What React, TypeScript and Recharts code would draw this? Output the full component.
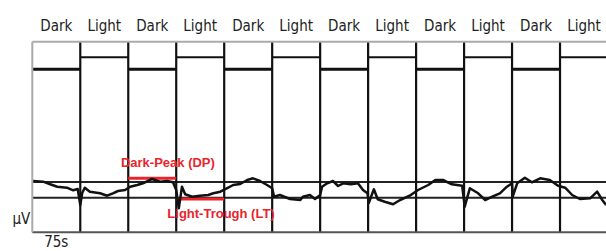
import React from "react";
import {
  ComposedChart,
  Line,
  XAxis,
  YAxis,
  ReferenceLine,
  ReferenceDot,
} from "recharts";

// Stimulus protocol: 12 alternating phases of 75 s
const stimulusLabels = [
  "Dark", "Light", "Dark", "Light", "Dark", "Light",
  "Dark", "Light", "Dark", "Light", "Dark", "Light",
];
const phaseSeconds = 75;
const stimulusLevelDark = 163;
const stimulusLevelLight = 175;

// EOG trace (time in s, amplitude in µV, arbitrary offset)
const traceTime = [
  1, 17, 28, 39, 54, 64, 71, 75, 78, 82, 90, 106, 117, 126, 134, 145, 153, 164,
  173, 187, 200, 211, 220, 225, 229, 234, 239, 250, 262, 275, 283, 294, 304, 314,
  325, 336, 345, 356, 367, 375, 378, 387, 403, 419, 423, 434, 442, 450, 453, 461,
  470, 478, 486, 498, 509, 517, 524, 526, 534, 540, 551, 564, 575, 590, 603, 619, 630,
  642, 656, 672, 676, 684, 697, 708, 719, 731, 742, 750, 751, 758, 770, 781, 794,
  809, 822, 833, 844, 856, 872, 883, 891, 897,
];
const traceMicrovolts = [
  51.3, 50.6, 48, 45.6, 44.6, 42, 43.3, 27.3, 39.3, 44.6, 40.6, 39, 36.6, 39, 41.3,
  42.3, 45.6, 47.3, 49, 53.3, 50.6, 51.3, 50, 42.3, 24, 45.6, 38, 35.6, 36.6, 37.3,
  39, 40.6, 44, 47.3, 48.3, 52.3, 54, 51.3, 47.3, 44, 35.6, 37.3, 33.3, 32.3, 35.6,
  37.3, 33.3, 37.3, 45.6, 49, 51.3, 46.3, 49, 48, 49, 42.3, 39, 29.3, 43, 33, 30.6,
  28, 32.3, 36.6, 42.3, 47.3, 52.3, 52.3, 48, 46.6, 25.6, 44, 39, 32.3, 35.6, 39,
  45.6, 49, 35.6, 49, 54.6, 50, 54, 52.3, 46.6, 44.6, 37.3, 33.3, 34, 40.6, 32.3,
  27.3,
];

const baselineLevels = [50.3, 34.6];
const darkPeakLevel = 54;
const lightTroughLevel = 33.3;
const darkPeakPhase = 2; // index of phase
const lightTroughPhase = 3;

const unitLabel = "μV";
const timeLabel = "75s";

const traceData = traceTime.map((t, i) => ({ t, v: traceMicrovolts[i] }));
const phaseCenters = stimulusLabels.map((_, i) => phaseSeconds * i + phaseSeconds / 2);
const boundaries = stimulusLabels.slice(1).map((_, i) => phaseSeconds * (i + 1));
const totalSeconds = phaseSeconds * stimulusLabels.length;

const RED = "#e8242c";
const axisFont = "'Liberation Sans Narrow', 'DejaVu Sans Condensed', 'Roboto', sans-serif";
const redFont = "'Liberation Sans', Arial, sans-serif";

export default function App() {
  return (
    <div
      style={{
        position: "absolute",
        left: 0,
        top: 0,
        width: 606,
        height: 251,
        overflow: "hidden",
        background: "#fff",
      }}
    >
      <ComposedChart
        width={608}
        height={251}
        data={traceData}
        margin={{ top: 0, right: 0, bottom: 0, left: 0 }}
      >
        <XAxis
          xAxisId="top"
          orientation="top"
          dataKey="t"
          type="number"
          domain={[0, totalSeconds]}
          ticks={phaseCenters}
          tickFormatter={(_v: number, i: number) => stimulusLabels[i]}
          height={41.7}
          tickLine={false}
          tickSize={8}
          tickMargin={2.7}
          axisLine={{ stroke: "#aaa", strokeWidth: 2 }}
          tick={{ fill: "#222", fontSize: 15, fontFamily: axisFont }}
          interval={0}
        />
        <XAxis
          xAxisId="bottom"
          orientation="bottom"
          dataKey="t"
          type="number"
          domain={[0, totalSeconds]}
          ticks={[phaseCenters[0]]}
          tickFormatter={() => timeLabel}
          height={18.7}
          tickLine={false}
          tickSize={4}
          tickMargin={0}
          axisLine={{ stroke: "#555", strokeWidth: 2 }}
          tick={{ fill: "#222", fontSize: 15, fontFamily: axisFont }}
          interval={0}
        />
        <YAxis
          yAxisId="y"
          type="number"
          domain={[0, 190.6]}
          width={32.3}
          ticks={[13.8]}
          tickFormatter={() => unitLabel}
          tickLine={false}
          tickSize={2}
          tickMargin={0}
          axisLine={{ stroke: "#aaa", strokeWidth: 2 }}
          tick={{ fill: "#222", fontSize: 15, fontFamily: axisFont }}
          interval={0}
        />

        {baselineLevels.map((lvl, i) => (
          <ReferenceLine
            key={"h" + i}
            xAxisId="bottom"
            yAxisId="y"
            y={lvl}
            stroke="#222"
            strokeWidth={2}
          />
        ))}

        {boundaries.map((b, i) => (
          <ReferenceLine
            key={"v" + i}
            xAxisId="bottom"
            yAxisId="y"
            x={b}
            stroke="#111"
            strokeWidth={2.2}
          />
        ))}

        {stimulusLabels.map((lab, i) => (
          <ReferenceLine
            key={"s" + i}
            xAxisId="bottom"
            yAxisId="y"
            segment={[
              { x: phaseSeconds * i, y: lab === "Dark" ? stimulusLevelDark : stimulusLevelLight },
              { x: phaseSeconds * (i + 1), y: lab === "Dark" ? stimulusLevelDark : stimulusLevelLight },
            ]}
            stroke="#111"
            strokeWidth={lab === "Dark" ? 3 : 2}
            ifOverflow="visible"
          />
        ))}

        <ReferenceLine
          xAxisId="bottom"
          yAxisId="y"
          segment={[
            { x: phaseSeconds * darkPeakPhase, y: darkPeakLevel },
            { x: phaseSeconds * (darkPeakPhase + 1), y: darkPeakLevel },
          ]}
          stroke={RED}
          strokeWidth={3}
          ifOverflow="visible"
        />
        <ReferenceLine
          xAxisId="bottom"
          yAxisId="y"
          segment={[
            { x: phaseSeconds * lightTroughPhase, y: lightTroughLevel },
            { x: phaseSeconds * (lightTroughPhase + 1), y: lightTroughLevel },
          ]}
          stroke={RED}
          strokeWidth={3}
          ifOverflow="visible"
        />

        <Line
          xAxisId="bottom"
          yAxisId="y"
          dataKey="v"
          type="linear"
          stroke="#111"
          strokeWidth={2.5}
          strokeLinejoin="round"
          dot={false}
          isAnimationActive={false}
        />

        <ReferenceDot
          xAxisId="bottom"
          yAxisId="y"
          x={212}
          y={70.3}
          r={0}
          ifOverflow="visible"
          label={{
            value: "Dark-Peak (DP)",
            position: "center",
            fill: RED,
            fontSize: 13,
            fontWeight: 700,
            fontFamily: redFont,
          }}
        />
        <ReferenceDot
          xAxisId="bottom"
          yAxisId="y"
          x={295}
          y={18.6}
          r={0}
          ifOverflow="visible"
          label={{
            value: "Light-Trough (LT)",
            position: "center",
            fill: RED,
            fontSize: 13,
            fontWeight: 700,
            fontFamily: redFont,
          }}
        />
      </ComposedChart>
    </div>
  );
}
